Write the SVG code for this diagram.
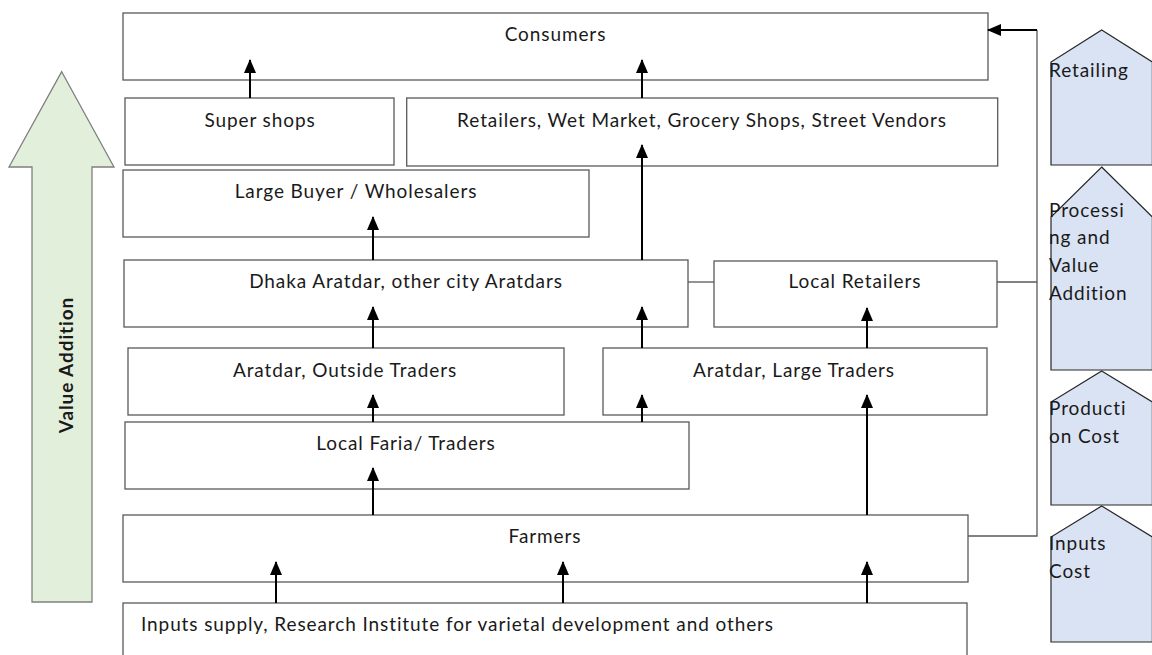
<svg xmlns="http://www.w3.org/2000/svg" width="1152" height="655" viewBox="0 0 1152 655">
  <defs>
    <marker id="arrow" viewBox="0 0 14 12" refX="13" refY="6" markerWidth="14" markerHeight="12" markerUnits="userSpaceOnUse" orient="auto">
      <path d="M0,0 L14,6 L0,12 Z" fill="#000"/>
    </marker>
    <style>
      .box { fill: #fff; stroke: #595959; stroke-width: 1.3; }
      .lbl { font-family: Lato, "Liberation Sans", sans-serif; font-size: 19px; letter-spacing: 0.9px; fill: #1a1a1a; }
      .mid { text-anchor: middle; }
      .flow { stroke: #000; stroke-width: 2; fill: none; marker-end: url(#arrow); }
      .link { stroke: #595959; stroke-width: 1.3; fill: none; }
      .stage { fill: #dae3f3; stroke: #262626; stroke-width: 1.2; }
      .va { fill: #e2efda; stroke: #7f7f7f; stroke-width: 1.3; }
    </style>
  </defs>
  <rect width="1152" height="655" fill="#fff"/>

  <!-- value addition arrow on the left -->
  <g id="value-addition">
    <path class="va" d="M61.7,71.7 L114,167 L92,167 L92,602 L32,602 L32,167 L9,167 Z"/>
    <text class="lbl" x="0" y="0" font-weight="bold" font-size="24" text-anchor="middle" transform="translate(73 365) rotate(-90)">Value Addition</text>
  </g>

  <!-- chain nodes -->
  <g id="consumers">
    <rect class="box" x="123" y="13" width="865" height="67"/>
    <text class="lbl mid" x="555.5" y="41">Consumers</text>
  </g>
  <g id="super-shops">
    <rect class="box" x="125" y="98" width="269" height="67"/>
    <text class="lbl mid" x="260" y="127">Super shops</text>
  </g>
  <g id="retailers">
    <rect class="box" x="406.7" y="98" width="591" height="68"/>
    <text class="lbl mid" x="702" y="127">Retailers, Wet Market, Grocery Shops, Street Vendors</text>
  </g>
  <g id="large-buyer">
    <rect class="box" x="123" y="170" width="466" height="67"/>
    <text class="lbl mid" x="356" y="198">Large Buyer / Wholesalers</text>
  </g>
  <g id="dhaka-aratdar">
    <rect class="box" x="124" y="260" width="564" height="67"/>
    <text class="lbl mid" x="406" y="288">Dhaka Aratdar, other city Aratdars</text>
  </g>
  <g id="local-retailers">
    <rect class="box" x="714" y="261" width="283" height="66"/>
    <text class="lbl mid" x="855" y="288">Local Retailers</text>
  </g>
  <g id="aratdar-outside">
    <rect class="box" x="128" y="348" width="436" height="67"/>
    <text class="lbl mid" x="345" y="377">Aratdar, Outside Traders</text>
  </g>
  <g id="aratdar-large">
    <rect class="box" x="603" y="348" width="384" height="67"/>
    <text class="lbl mid" x="794" y="377">Aratdar, Large Traders</text>
  </g>
  <g id="local-faria">
    <rect class="box" x="125" y="422" width="564" height="67"/>
    <text class="lbl mid" x="406" y="450">Local Faria/ Traders</text>
  </g>
  <g id="farmers">
    <rect class="box" x="123" y="515" width="845" height="67"/>
    <text class="lbl mid" x="545" y="543">Farmers</text>
  </g>
  <g id="inputs">
    <rect class="box" x="123" y="603" width="844" height="70"/>
    <text class="lbl" x="141" y="631" letter-spacing="0.8">Inputs supply, Research Institute for varietal development and others</text>
  </g>

  <!-- cost stages on the right -->
  <g id="stage-inputs">
    <path class="stage" d="M1101.7,506 L1152.4,537 L1152.4,642 L1051,642 L1051,537 Z"/>
    <text class="lbl" x="1049" y="550">Inputs</text>
    <text class="lbl" x="1049" y="578">Cost</text>
  </g>
  <g id="stage-production">
    <path class="stage" d="M1101.7,371 L1152.4,402 L1152.4,505 L1051,505 L1051,402 Z"/>
    <text class="lbl" x="1049" y="415">Producti</text>
    <text class="lbl" x="1049" y="443">on Cost</text>
  </g>
  <g id="stage-processing">
    <path class="stage" d="M1101.7,167 L1152.4,217 L1152.4,370 L1051,370 L1051,217 Z"/>
    <text class="lbl" x="1049" y="217">Processi</text>
    <text class="lbl" x="1049" y="244">ng and</text>
    <text class="lbl" x="1049" y="272">Value</text>
    <text class="lbl" x="1049" y="300">Addition</text>
  </g>
  <g id="stage-retailing">
    <path class="stage" d="M1101.7,30 L1152.4,62 L1152.4,165 L1051,165 L1051,62 Z"/>
    <text class="lbl" x="1049" y="77">Retailing</text>
  </g>

  <!-- connectors -->
  <g id="connectors">
    <line class="flow" x1="250" y1="98" x2="250" y2="60"/>
    <line class="flow" x1="642" y1="98" x2="642" y2="60"/>
    <line class="flow" x1="373" y1="260" x2="373" y2="217"/>
    <line class="flow" x1="642" y1="260" x2="642" y2="145"/>
    <line class="flow" x1="373" y1="348" x2="373" y2="307"/>
    <line class="flow" x1="642" y1="348" x2="642" y2="307"/>
    <line class="flow" x1="867" y1="348" x2="867" y2="308"/>
    <line class="flow" x1="373" y1="422" x2="373" y2="395"/>
    <line class="flow" x1="642" y1="422" x2="642" y2="395"/>
    <line class="flow" x1="867" y1="515" x2="867" y2="395"/>
    <line class="flow" x1="373" y1="515" x2="373" y2="468"/>
    <line class="flow" x1="276" y1="603" x2="276" y2="562"/>
    <line class="flow" x1="563" y1="603" x2="563" y2="562"/>
    <line class="flow" x1="867" y1="603" x2="867" y2="562"/>
    <line class="link" x1="688" y1="282" x2="714" y2="282"/>
    <polyline class="link" points="997,282 1037,282"/>
    <polyline class="link" points="968,536 1037,536 1037,30"/>
    <line class="flow" x1="1037" y1="30" x2="988" y2="30"/>
  </g>
</svg>
